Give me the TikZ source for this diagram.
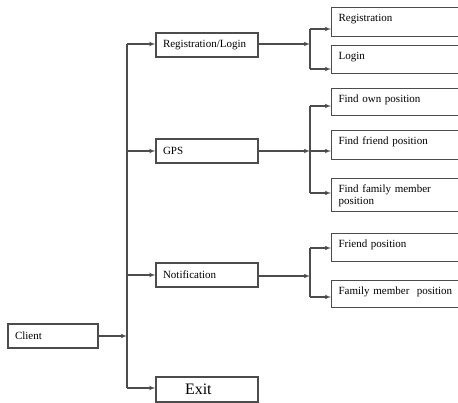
\documentclass[tikz,border=0pt]{standalone}
\usepackage{fontspec}
\setmainfont{Liberation Serif}
\usetikzlibrary{arrows}

\begin{document}
\begin{tikzpicture}[x=1pt,y=-1pt,->,>=latex',line width=1.1pt,
    draw=black!70,font=\fontsize{11}{12}\selectfont,
    menu node/.style={draw,-,text width=88pt,inner xsep=7pt,minimum height=24pt,align=left},
    sub node/.style={draw,-,anchor=north west,text width=140pt,inner xsep=7pt,inner ysep=3pt,
      align=left,text height=11pt,text depth=#1}]

\clip (0,0) rectangle (458,403);

\node[menu node,text width=76pt] (client) at (53,336) {Client};

\node[menu node] (reglogin) at (207,45) {Registration/Login};
\node[menu node] (gps) at (207,151) {GPS};
\node[menu node] (notif) at (207,275) {Notification};
\node[menu node,minimum height=25pt,text width=44pt,inner xsep=29pt,
  font=\fontsize{16}{18}\selectfont] (exit) at (207,389.5) {Exit};

\node[sub node=12pt] (registration) at (331,7) {Registration};
\node[sub node=11pt] (login) at (331,45) {Login};
\node[sub node=10pt] (ownpos) at (331,88) {Find own position};
\node[sub node=12pt] (friendpos) at (331,130) {Find friend position};
\node[sub node=16pt] (familypos) at (331,178) {Find family member\\position};
\node[sub node=11pt] (friendnote) at (331,233) {Friend position};
\node[sub node=10pt] (familynote) at (331,280) {Family member\ \ position};

\coordinate (trunk top) at (127,44);
\coordinate (trunk bot) at (127,388);
\coordinate (rl top) at (310,29);
\coordinate (rl bot) at (310,69);
\coordinate (gps top) at (310,106);
\coordinate (gps bot) at (310,193);
\coordinate (nt top) at (310,248);
\coordinate (nt bot) at (310,297);

% client to the menu
\draw[-] (trunk top) -- (trunk bot);
\draw (client) -- (client -| trunk top);
\draw (trunk top) -- (trunk top -| reglogin.west);
\draw (trunk top |- gps) -- (gps);
\draw (trunk top |- notif) -- (notif);
\draw (trunk bot) -- (trunk bot -| exit.west);

% registration/login
\draw[-] (rl top) -- (rl bot);
\draw (reglogin.east |- 0,44) -- (rl top |- 0,44);
\draw (rl top) -- (rl top -| registration.west);
\draw (rl bot) -- (rl bot -| login.west);

% gps
\draw[-] (gps top) -- (gps bot);
\draw (gps) -- (gps -| gps top);
\draw (gps top) -- (gps top -| ownpos.west);
\draw (gps top |- gps) -- (gps -| friendpos.west);
\draw (gps bot) -- (gps bot -| familypos.west);

% notification
\draw[-] (nt top) -- (nt bot);
\draw (notif.east |- 0,276) -- (nt top |- 0,276);
\draw (nt top) -- (nt top -| friendnote.west);
\draw (nt bot) -- (nt bot -| familynote.west);

\end{tikzpicture}
\end{document}
